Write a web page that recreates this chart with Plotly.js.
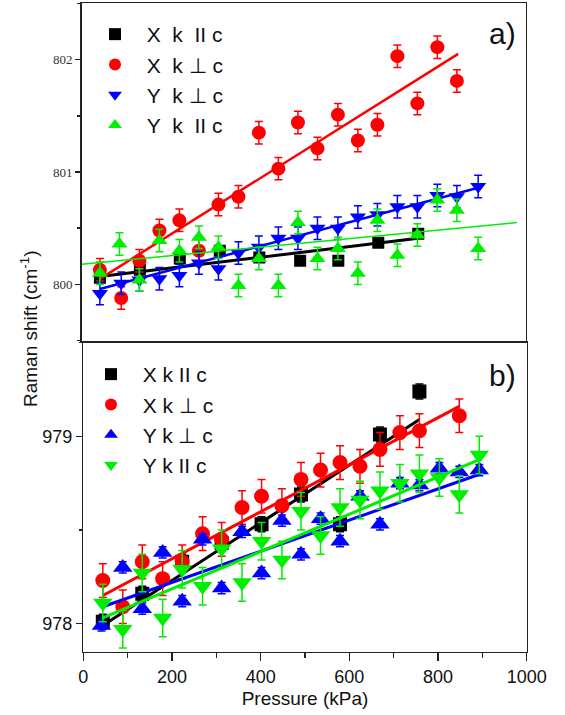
<!DOCTYPE html>
<html>
<head>
<meta charset="utf-8">
<script src="https://cdn.plot.ly/plotly-3.0.1.min.js"></script>
<style>html,body{margin:0;padding:0;background:#fff}#chart{width:565px;height:715px}</style>
</head>
<body>
<div id="chart"></div>
<script>
// ---------- data: panel a) ----------
const seriesNamesA = ["X\u00a0\u00a0k\u00a0\u00a0II\u00a0c", "X\u00a0\u00a0k\u00a0\u22a5\u00a0c", "Y\u00a0\u00a0k\u00a0\u22a5\u00a0c", "Y\u00a0\u00a0k\u00a0\u00a0II\u00a0c"];
const seriesNamesB = ["X k II c", "X k \u22a5 c", "Y k \u22a5 c", "Y k II c"];

const aBlackX = [41, 131, 221, 311, 400, 492, 578, 668, 758];
const aBlackY = [800.06, 800.13, 800.23, 800.30, 800.24, 800.21, 800.21, 800.37, 800.45];
const aRedX = [41, 89, 130, 175, 220, 264, 308, 353, 399, 443, 487, 531, 577, 622, 666, 711, 756, 801, 845];
const aRedY = [800.13, 799.88, 800.21, 800.48, 800.57, 800.30, 800.71, 800.78, 801.35, 801.03, 801.44, 801.21, 801.51, 801.28, 801.42, 802.03, 801.61, 802.11, 801.81];
const aBlueX = [41, 89, 130, 175, 220, 264, 308, 353, 399, 443, 487, 531, 577, 622, 666, 711, 756, 801, 845, 893];
const aBlueY = [799.92, 800.01, 800.04, 800.05, 800.08, 800.19, 800.14, 800.28, 800.33, 800.41, 800.41, 800.50, 800.50, 800.60, 800.62, 800.69, 800.69, 800.79, 800.78, 800.87];
const aGreenX = [41, 85, 130, 175, 220, 264, 308, 353, 399, 443, 487, 531, 577, 622, 666, 711, 756, 801, 845, 893];
const aGreenY = [800.10, 800.36, 800.04, 800.39, 800.30, 800.42, 800.33, 799.99, 800.23, 799.99, 800.55, 800.23, 800.32, 800.10, 800.57, 800.26, 800.44, 800.75, 800.66, 800.32];
const aErr = [0, 0.1, 0.1, 0.1];

const aFitBlackX = [41, 758],  aFitBlackY = [800.07, 800.41];
const aFitRedX   = [41, 848],  aFitRedY   = [800.05, 802.05];
const aFitBlueX  = [41, 893],  aFitBlueY  = [799.96, 800.86];
const aFitGreenX = [0, 980],   aFitGreenY = [800.18, 800.55];

// ---------- data: panel b) ----------
const bBlackX = [44, 133, 223, 312, 402, 491, 579, 669, 758];
const bBlackY = [978.01, 978.16, 978.33, 978.43, 978.53, 978.69, 978.53, 979.01, 979.24];
const bRedX = [44, 89, 133, 179, 223, 269, 312, 358, 402, 448, 491, 535, 579, 624, 669, 714, 758, 848];
const bRedY = [978.23, 978.09, 978.33, 978.24, 978.33, 978.48, 978.45, 978.62, 978.68, 978.63, 978.77, 978.82, 978.86, 978.84, 978.93, 979.02, 979.03, 979.11];
const bBlueX = [41, 89, 133, 179, 223, 269, 312, 358, 402, 448, 491, 535, 579, 624, 669, 714, 758, 803, 848, 893];
const bBlueY = [977.99, 978.30, 978.08, 978.38, 978.12, 978.45, 978.19, 978.49, 978.27, 978.55, 978.37, 978.56, 978.44, 978.68, 978.53, 978.75, 978.74, 978.83, 978.81, 978.82];
const bGreenX = [44, 89, 133, 179, 223, 269, 312, 358, 402, 448, 491, 535, 579, 624, 669, 714, 758, 803, 848, 893];
const bGreenY = [978.11, 977.97, 978.27, 978.03, 978.29, 978.20, 978.40, 978.22, 978.44, 978.34, 978.60, 978.47, 978.62, 978.66, 978.71, 978.75, 978.80, 978.78, 978.69, 978.90];
const bErr = [0.04, 0.09, 0.03, 0.1];

const bFitBlackX = [44, 758], bFitBlackY = [977.99, 979.09];
const bFitRedX   = [44, 848], bFitRedY   = [978.15, 979.16];
const bFitBlueX  = [44, 897], bFitBlueY  = [978.09, 978.80];
const bFitGreenX = [44, 897], bFitGreenY = [978.03, 978.88];

const xTickVals = [0, 200, 400, 600, 800, 1000];

// ---------- styles ----------
const W = 565, H = 715;
const px = v => v / W, py = v => 1 - v / H;
const SANS = "Liberation Sans, Arial, sans-serif";
const SERIF = "Liberation Serif, Times New Roman, serif";
const colors = ["#000000", "#ff0000", "#0000ff", "#00ee00"];
const symA = ["square", "circle", "triangle-down", "triangle-up"];
const symB = ["square", "circle", "triangle-up", "triangle-down"];
const sizeA = [12, 14, 14, 14];
const sizeB = [14, 15, 17, 17];
const fitWA = [3, 2.5, 2.5, 1.5];
const fitWB = [3, 3, 3, 3];
const padA = "\u00a0\u00a0";
const padB = "\u00a0\u00a0";

function pts(x, y, i, err, sym, size, name, xa, ya, lg) {
  const t = {
    type: "scatter", mode: "markers", x: x, y: y, name: name,
    xaxis: xa, yaxis: ya, legend: lg, cliponaxis: true,
    marker: {color: colors[i], symbol: sym, size: size, line: {width: 0}}
  };
  if (err > 0) t.error_y = {type: "constant", value: err, color: colors[i], thickness: 1.5, width: 4};
  return t;
}
function fit(x, y, i, w, xa, ya) {
  return {type: "scatter", mode: "lines", x: x, y: y, xaxis: xa, yaxis: ya, showlegend: false,
          hoverinfo: "skip", line: {color: colors[i], width: w}};
}

const A = [[aBlackX, aBlackY, aFitBlackX, aFitBlackY], [aRedX, aRedY, aFitRedX, aFitRedY],
           [aBlueX, aBlueY, aFitBlueX, aFitBlueY], [aGreenX, aGreenY, aFitGreenX, aFitGreenY]];
const B = [[bBlackX, bBlackY, bFitBlackX, bFitBlackY], [bRedX, bRedY, bFitRedX, bFitRedY],
           [bBlueX, bBlueY, bFitBlueX, bFitBlueY], [bGreenX, bGreenY, bFitGreenX, bFitGreenY]];

const traces = [];
A.forEach((s, i) => {
  traces.push(pts(s[0], s[1], i, aErr[i], symA[i], sizeA[i], padA + seriesNamesA[i], "x2", "y2", "legend"));
  traces.push(fit(s[2], s[3], i, fitWA[i], "x2", "y2"));
});
B.forEach((s, i) => {
  traces.push(pts(s[0], s[1], i, bErr[i], symB[i], sizeB[i], padB + seriesNamesB[i], "x", "y", "legend2"));
  traces.push(fit(s[2], s[3], i, fitWB[i], "x", "y"));
});

const LC = "#222";
const domXA = [px(81.7), px(525.7)], domYA = [py(340.7), py(3.3)];
const domXB = [px(83.3), px(526.7)], domYB = [py(651.7), py(342.7)];
const base = {showgrid: false, zeroline: false, showline: true, linecolor: LC, linewidth: 1.5,
              tickcolor: LC, tickwidth: 1.5, autorange: false, fixedrange: true};

const layout = {
  width: W, height: H, autosize: false,
  margin: {l: 0, r: 0, t: 0, b: 0},
  paper_bgcolor: "#fff", plot_bgcolor: "rgba(0,0,0,0)",
  showlegend: true,
  // panel b (bottom)
  xaxis: Object.assign({}, base, {
    domain: domXB, anchor: "y", range: [0, 1000], mirror: true,
    tickmode: "array", tickvals: xTickVals, ticks: "outside", ticklen: 8,
    minor: {dtick: 100, ticks: "outside", ticklen: 5, tickwidth: 1.5, tickcolor: LC, showgrid: false},
    tickfont: {family: SANS, size: 18, color: "#111"},
    title: {text: "Pressure (kPa)", font: {family: SANS, size: 19, color: "#111"}, standoff: 6}
  }),
  yaxis: Object.assign({}, base, {
    domain: domYB, anchor: "x", range: [977.85, 979.5], mirror: true,
    dtick: 1, tick0: 978, ticks: "outside", ticklen: 6,
    minor: {dtick: 0.5, ticks: "outside", ticklen: 3, tickwidth: 1.5, tickcolor: LC, showgrid: false},
    tickfont: {family: SANS, size: 18, color: "#111"}
  }),
  xaxis3: Object.assign({}, base, {
    overlaying: "x", anchor: "y", side: "top", range: [0, 1000], showline: false,
    tickmode: "array", tickvals: xTickVals, ticks: "inside", ticklen: 8, showticklabels: false,
    minor: {dtick: 100, ticks: "inside", ticklen: 5, tickwidth: 1.5, tickcolor: LC, showgrid: false}
  }),
  yaxis3: Object.assign({}, base, {
    overlaying: "y", anchor: "x", side: "right", range: [977.85, 979.5], showline: false,
    dtick: 1, tick0: 978, ticks: "inside", ticklen: 7, showticklabels: false,
    minor: {dtick: 0.5, ticks: "inside", ticklen: 4, tickwidth: 1.5, tickcolor: LC, showgrid: false}
  }),
  // panel a (top)
  xaxis2: Object.assign({}, base, {
    domain: domXA, anchor: "y2", range: [0, 1000], mirror: true, ticks: "", showticklabels: false
  }),
  yaxis2: Object.assign({}, base, {
    domain: domYA, anchor: "x2", range: [799.5, 802.5], mirror: true,
    dtick: 1, tick0: 800, ticks: "outside", ticklen: 5,
    minor: {dtick: 0.5, ticks: "outside", ticklen: 3, tickwidth: 1.5, tickcolor: LC, showgrid: false},
    tickfont: {family: SERIF, size: 13, color: "#333"}
  }),
  xaxis4: Object.assign({}, base, {
    overlaying: "x2", anchor: "y2", side: "top", range: [0, 1000], showline: false,
    dtick: 100, tick0: 0, ticks: "inside", ticklen: 4, showticklabels: false
  }),
  yaxis4: Object.assign({}, base, {
    overlaying: "y2", anchor: "x2", side: "right", range: [799.5, 802.5], showline: false,
    dtick: 1, tick0: 800, ticks: "inside", ticklen: 7, showticklabels: false,
    minor: {dtick: 0.5, ticks: "inside", ticklen: 3, tickwidth: 1.5, tickcolor: LC, showgrid: false}
  }),
  legend: {
    x: px(95), y: py(14), xanchor: "left", yanchor: "top", bgcolor: "rgba(0,0,0,0)",
    borderwidth: 0, itemsizing: "constant", font: {family: SANS, size: 21, color: "#111"},
    traceorder: "normal"
  },
  legend2: {
    x: px(91), y: py(354), xanchor: "left", yanchor: "top", bgcolor: "rgba(0,0,0,0)",
    borderwidth: 0, itemsizing: "constant", font: {family: SANS, size: 21, color: "#111"},
    traceorder: "normal"
  },
  annotations: [
    {text: "a)", xref: "paper", yref: "paper", x: px(502), y: py(33), xanchor: "center", yanchor: "middle",
     showarrow: false, font: {family: SANS, size: 30, color: "#111"}},
    {text: "b)", xref: "paper", yref: "paper", x: px(502), y: py(375), xanchor: "center", yanchor: "middle",
     showarrow: false, font: {family: SANS, size: 30, color: "#111"}},
    {text: "Raman shift (cm<sup>-1</sup>)", xref: "paper", yref: "paper", x: px(29), y: py(329),
     xanchor: "center", yanchor: "middle", textangle: -90, showarrow: false,
     font: {family: SANS, size: 19, color: "#111"}}
  ]
};

Plotly.newPlot("chart", traces, layout, {displayModeBar: false, staticPlot: true});
</script>
</body>
</html>
